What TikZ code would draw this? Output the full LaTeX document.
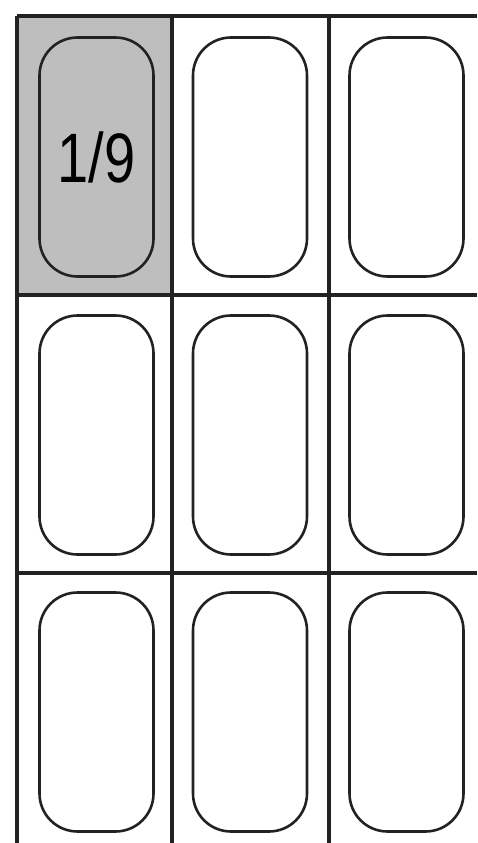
\documentclass[tikz,border=0pt]{standalone}
\usepackage{fontspec}
\setmainfont{Liberation Sans}
\definecolor{gridline}{HTML}{222222}
\definecolor{cellgray}{HTML}{BEBEBE}
\begin{document}
\begin{tikzpicture}[x=1pt,y=-1pt,
  capsule/.style={draw=gridline,line width=2.6pt,rectangle,rounded corners=38pt,
    minimum width=114pt,minimum height=239pt,inner sep=0pt},
  gridln/.style={draw=gridline,line width=3.2pt}]
\fill[white] (0,0) rectangle (477,843);
\useasboundingbox (0,0) rectangle (477,843);
\fill[cellgray] (17,16) rectangle (172,295);
% capsules
\node[capsule,fill=cellgray] (c11) at (96.5,157) {\scalebox{0.8}[1]{\fontsize{70pt}{70pt}\selectfont 1/9}};
\node[capsule] (c12) at (250,157) {};
\node[capsule] (c13) at (406.5,157) {};
\node[capsule] (c21) at (96.5,435) {};
\node[capsule] (c22) at (250,435) {};
\node[capsule] (c23) at (406.5,435) {};
\node[capsule] (c31) at (96.5,712) {};
\node[capsule] (c32) at (250,712) {};
\node[capsule] (c33) at (406.5,712) {};
% grid
\draw[gridln] (17,16) -- (477,16);
\draw[gridln] (17,295) -- (477,295);
\draw[gridln] (17,573) -- (477,573);
\draw[gridln] (17,16) -- (17,843);
\draw[gridln] (172,16) -- (172,843);
\draw[gridln] (329,16) -- (329,843);
\end{tikzpicture}
\end{document}
